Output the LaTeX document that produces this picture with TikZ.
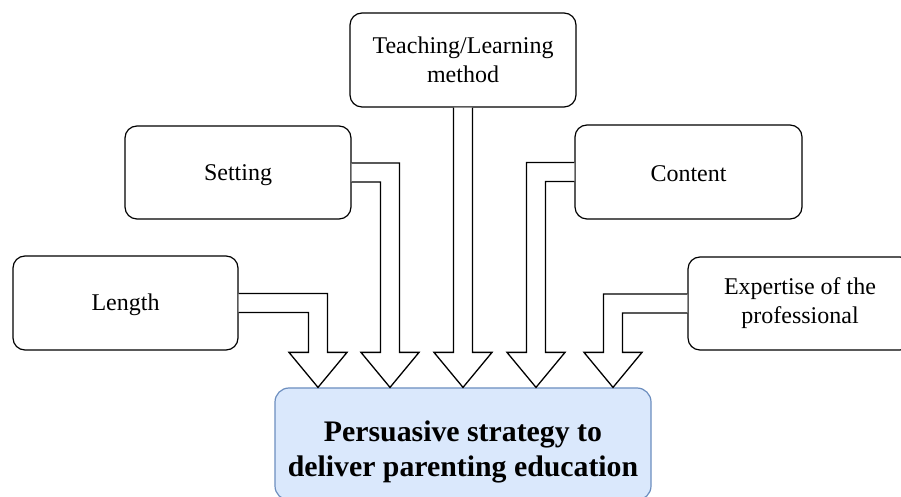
\documentclass[tikz,border=0pt]{standalone}
\usepackage{fontspec}
\setmainfont{Liberation Serif}
\usetikzlibrary{calc}
\definecolor{mainfill}{HTML}{DAE8FC}
\definecolor{mainline}{HTML}{6C8EBF}

% Bent block arrow: leaves a box side horizontally, turns down onto a tip point.
% #1 start point on the box side, #2 tip point, #3 = 1 heading right, -1 heading left
\newcommand{\bentflow}[3]{%
  \draw[flowarrow] let \p1=(#1), \p2=(#2) in
    (\x1,\y1+9.5pt) -- (\x2+#3*9.5pt,\y1+9.5pt) -- (\x2+#3*9.5pt,\y2+35pt)
    -- (\x2+#3*29pt,\y2+35pt) -- (\x2,\y2) -- (\x2-#3*29pt,\y2+35pt)
    -- (\x2-#3*9.5pt,\y2+35pt) -- (\x2-#3*9.5pt,\y1-9.5pt) -- (\x1,\y1-9.5pt);}

\begin{document}
\begin{tikzpicture}[x=1pt,y=1pt,
  factor/.style={draw=black, line width=1.2pt, rounded corners=12pt, fill=white,
    align=center, inner sep=0pt, font=\fontsize{24}{29}\selectfont},
  goal/.style={draw=mainline, line width=1.2pt, rounded corners=14pt, fill=mainfill,
    align=center, inner sep=0pt, font=\fontsize{29.8}{35}\selectfont\bfseries},
  flowarrow/.style={draw=black, line width=1.3pt, fill=white, line join=miter}]
\useasboundingbox (0,0) rectangle (901,497);
\clip (0,0) rectangle (901,497);

% factor boxes
\node[factor, minimum width=225pt, minimum height=94pt] (len) at (125.5,194) {\rule{0pt}{20pt}Length};
\node[factor, minimum width=226pt, minimum height=93pt] (set) at (238,324.5) {\rule{0pt}{21pt}Setting};
\node[factor, minimum width=226pt, minimum height=94pt] (teach) at (463,437) {Teaching/Learning\\method};
\node[factor, minimum width=227pt, minimum height=94pt] (cont) at (688.5,325) {\rule{0pt}{20pt}Content};
\node[factor, minimum width=224pt, minimum height=93pt] (exp) at (800,193.5) {Expertise of the\\professional};

% outcome box (a strut on the first line sets the text a little lower)
\node[goal, minimum width=376pt, minimum height=112pt] (main) at (463,53)
  {\rule{0pt}{37pt}Persuasive strategy to\\deliver parenting education};

% arrow tips on the top edge of the outcome box
\coordinate (t1) at ([xshift=-145pt]main.north);
\coordinate (t2) at ([xshift=-73pt]main.north);
\coordinate (t3) at (main.north);
\coordinate (t4) at ([xshift=73pt]main.north);
\coordinate (t5) at ([xshift=150pt]main.north);

% bent arrows from the side boxes
\bentflow{len.east}{t1}{1}
\bentflow{set.east}{t2}{1}
\bentflow{cont.west}{t4}{-1}
\bentflow{exp.west}{t5}{-1}

% straight arrow from the top box
\draw[flowarrow] let \p1=(teach.south), \p2=(t3) in
  (\x2-9.5pt,\y1) -- (\x2-9.5pt,\y2+35pt) -- (\x2-29pt,\y2+35pt) -- (\x2,\y2)
  -- (\x2+29pt,\y2+35pt) -- (\x2+9.5pt,\y2+35pt) -- (\x2+9.5pt,\y1);
\end{tikzpicture}
\end{document}
